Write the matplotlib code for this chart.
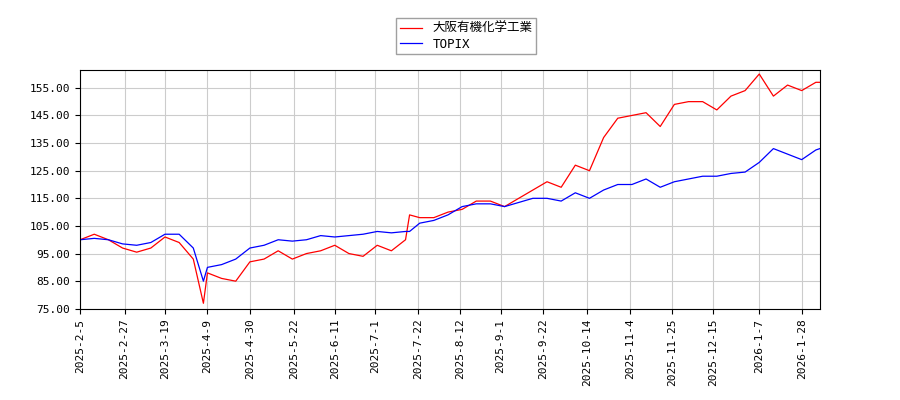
import matplotlib
matplotlib.use("Agg")
import matplotlib.pyplot as plt
import pandas as pd

plt.rcParams['font.family'] = ['Noto Sans CJK JP', 'DejaVu Sans']

dates = ["2025-02-05","2025-02-12","2025-02-19","2025-02-26","2025-03-05","2025-03-12","2025-03-19","2025-03-26",
         "2025-04-02","2025-04-07","2025-04-09","2025-04-16","2025-04-23","2025-04-30","2025-05-07","2025-05-14",
         "2025-05-21","2025-05-28","2025-06-04","2025-06-11","2025-06-18","2025-06-25","2025-07-02","2025-07-09",
         "2025-07-16","2025-07-18","2025-07-23","2025-07-30","2025-08-06","2025-08-13","2025-08-20","2025-08-27",
         "2025-09-03","2025-09-10","2025-09-17","2025-09-24","2025-10-01","2025-10-08","2025-10-15","2025-10-22",
         "2025-10-29","2025-11-05","2025-11-12","2025-11-19","2025-11-26","2025-12-03","2025-12-10","2025-12-17",
         "2025-12-24","2025-12-31","2026-01-07","2026-01-14","2026-01-21","2026-01-28","2026-02-04","2026-02-06"]
company = [100,102,100,97,95.5,97,101,99,93,77,88,86,85,92,93,96,93,95,96,98,95,94,98,96,100,109,108,108,
           110,111,114,114,112,115,118,121,119,127,125,137,144,145,146,141,149,150,150,147,152,154,160,152,
           156,154,157,157]
topix = [100,100.5,100,98.5,98,99,102,102,97,85,90,91,93,97,98,100,99.5,100,101.5,101,101.5,102,103,102.5,
         103,103,106,107,109,112,113,113,112,113.5,115,115,114,117,115,118,120,120,122,119,121,122,123,123,
         124,124.5,128,133,131,129,132.5,133]
tick_labels = ["2025-2-5","2025-2-27","2025-3-19","2025-4-9","2025-4-30","2025-5-22","2025-6-11","2025-7-1",
               "2025-7-22","2025-8-12","2025-9-1","2025-9-22","2025-10-14","2025-11-4","2025-11-25",
               "2025-12-15","2026-1-7","2026-1-28"]

d = pd.to_datetime(dates)
fig = plt.figure(figsize=(9, 4), dpi=100)
ax = fig.add_axes([0.089, 0.228, 0.822, 0.598])
ax.plot(d, company, color='red', lw=0.9, label='大阪有機化学工業')
ax.plot(d, topix, color='blue', lw=0.9, label='TOPIX')
ax.set_ylim(75, 161.6)
ax.set_yticks([75,85,95,105,115,125,135,145,155])
ax.yaxis.set_major_formatter(matplotlib.ticker.FormatStrFormatter('%.2f'))
ax.set_xlim(pd.Timestamp("2025-02-05"), pd.Timestamp("2026-02-06"))
ax.set_xticks(pd.to_datetime(tick_labels))
ax.set_xticklabels(tick_labels, rotation=90, family='DejaVu Sans Mono', fontsize=8)
for t in ax.get_yticklabels():
    t.set_family('DejaVu Sans Mono'); t.set_fontsize(8)
ax.grid(True, color='#cccccc', lw=0.8)
leg = fig.legend(loc='upper center', bbox_to_anchor=(0.518, 0.97), fontsize=9, fancybox=False,
                 edgecolor='#888888', borderpad=0.3, labelspacing=0.2, handlelength=1.8)
for t in leg.get_texts():
    if t.get_text() == 'TOPIX':
        t.set_family('DejaVu Sans Mono')
fig.savefig("out.png")
